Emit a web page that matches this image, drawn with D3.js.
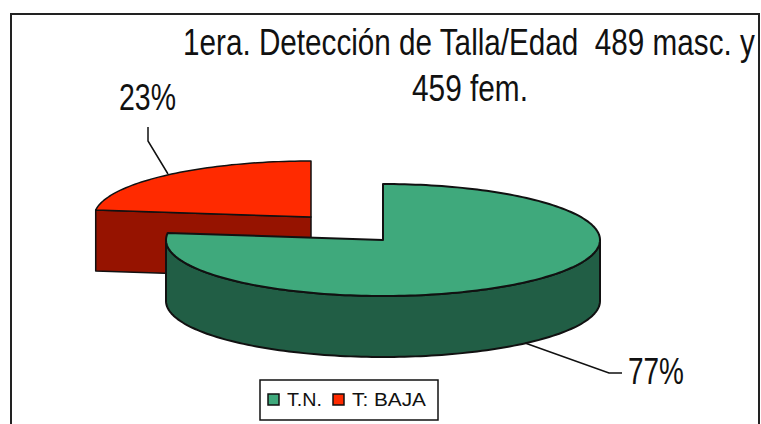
<!DOCTYPE html>
<html>
<head>
<meta charset="utf-8">
<script src="https://cdn.jsdelivr.net/npm/d3@7"></script>
<style>
  html, body { margin: 0; padding: 0; background: #fff; }
  svg { display: block; }
  text { font-family: "Liberation Sans", sans-serif; fill: #111; }
</style>
</head>
<body>
<svg id="pie" width="761" height="424"></svg>
<script>
var categories = ["T.N.", "T: BAJA"];
var values = [77, 23];
var pctLabels = ["77%", "23%"];
var titleLines = ["1era. Detección de Talla/Edad  489 masc. y", "459 fem."];

var topColours = ["#3FA97C", "#FF2A00"];
var sideColours = ["#215E45", "#961300"];

var svg = d3.select("#pie");

var rx = 217, ry = 56, depth = 61;
// the small slice is pulled out of the pie, so each one has its own centre
var centres = [{x: 383, y: 240}, {x: 311, y: 217}];

// keep the order given: first slice starts at 12 o'clock
var pie = d3.pie().sort(null).value(function(d) { return d; });
var slices = pie(values);

function rim(a0, a1, c, dy) {
  var n = Math.max(2, Math.ceil(Math.abs(a1 - a0) * 40));
  return d3.range(n + 1).map(function(i) {
    var a = a0 + (a1 - a0) * i / n;
    return [c.x + rx * Math.sin(a), c.y + dy - ry * Math.cos(a)];
  });
}

var line = d3.line();

// frame, open at the bottom of the picture
svg.append("path")
  .attr("d", "M11,424V14H759V424")
  .attr("fill", "none")
  .attr("stroke", "#222")
  .attr("stroke-width", 2);

// red slice first, green sits in front of it
var red = slices[1], redC = centres[1];
var redEnd = rim(red.startAngle, red.startAngle, redC, 0)[0];

svg.append("path")
  .attr("d", line([redEnd, [redC.x, redC.y], [redC.x, redC.y + depth], [redEnd[0], redEnd[1] + depth]]) + "Z")
  .attr("fill", sideColours[1])
  .attr("stroke", "#111")
  .attr("stroke-width", 1.5)
  .attr("stroke-linejoin", "round");

svg.append("path")
  .attr("d", line(rim(red.startAngle, red.endAngle, redC, 0).concat([[redC.x, redC.y]])) + "Z")
  .attr("fill", topColours[1])
  .attr("stroke", "#111")
  .attr("stroke-width", 1.5)
  .attr("stroke-linejoin", "round");

// green slice: outer wall runs from 3 o'clock round the front to the cut
var green = slices[0], greenC = centres[0];
var wallTop = rim(Math.PI / 2, 3 * Math.PI / 2, greenC, 0);
var wallBottom = rim(3 * Math.PI / 2, Math.PI / 2, greenC, depth);

svg.append("path")
  .attr("d", line(wallTop.concat(wallBottom)) + "Z")
  .attr("fill", sideColours[0])
  .attr("stroke", "#111")
  .attr("stroke-width", 2)
  .attr("stroke-linejoin", "round");

svg.append("path")
  .attr("d", line(rim(green.startAngle, green.endAngle, greenC, 0).concat([[greenC.x, greenC.y]])) + "Z")
  .attr("fill", topColours[0])
  .attr("stroke", "#111")
  .attr("stroke-width", 2)
  .attr("stroke-linejoin", "round");

// leader lines
var leaders = [
  [[525, 343], [609, 373], [622, 373]],
  [[168, 174], [148, 141], [148, 127]]
];
svg.selectAll(".leader")
  .data(leaders)
  .enter().append("path")
    .attr("class", "leader")
    .attr("d", function(d) { return line(d); })
    .attr("fill", "none")
    .attr("stroke", "#111")
    .attr("stroke-width", 1.5);

// the original type is a squeezed Arial: measure the text, then scale it to width
function squeezed(sel, pos, size) {
  sel.attr("font-size", size)
    .style("white-space", "pre")
    .text(function(d) { return d; })
    .attr("transform", function(d, i) {
      var sx = pos[i].w / this.getComputedTextLength();
      return "translate(" + pos[i].x + "," + pos[i].y + ") scale(" + sx + ",1)";
    });
}

svg.selectAll(".pct")
  .data(pctLabels)
  .enter().append("text")
    .attr("class", "pct")
    .call(squeezed, [{x: 628, y: 384, w: 56}, {x: 119, y: 110, w: 57}], 37);

svg.selectAll(".title")
  .data(titleLines)
  .enter().append("text")
    .attr("class", "title")
    .call(squeezed, [{x: 183, y: 55, w: 572}, {x: 412, y: 101, w: 116}], 37);

// legend
var legend = svg.append("g").attr("transform", "translate(260,380)");
legend.append("rect")
  .attr("width", 178)
  .attr("height", 40)
  .attr("fill", "#fff")
  .attr("stroke", "#111")
  .attr("stroke-width", 1.5);

var legendX = [8, 73];
var items = legend.selectAll(".item")
  .data(categories)
  .enter().append("g")
    .attr("class", "item")
    .attr("transform", function(d, i) { return "translate(" + legendX[i] + ",14)"; });

items.append("rect")
  .attr("width", 11)
  .attr("height", 11)
  .attr("fill", function(d, i) { return topColours[i]; })
  .attr("stroke", "#111")
  .attr("stroke-width", 1.5);

items.append("text")
  .attr("class", "legend-label")
  .call(squeezed, [{x: 19, y: 12, w: 35}, {x: 19, y: 12, w: 74}], 19);
</script>
</body>
</html>
